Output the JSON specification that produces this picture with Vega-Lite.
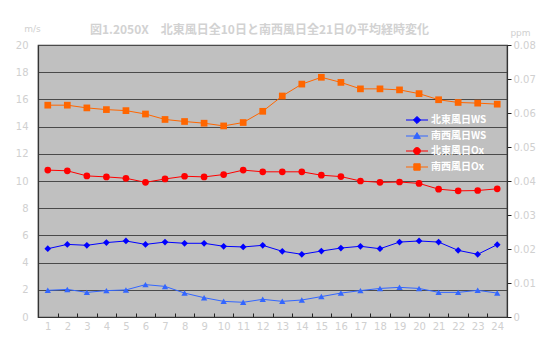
{
  "$schema": "https://vega.github.io/schema/vega-lite/v6.json",
  "width": 469,
  "height": 272,
  "autosize": {"type": "none"},
  "padding": {"left": 38, "top": 45, "right": 35, "bottom": 28},
  "background": "white",
  "title": {
    "text": "図1.2050X　北東風日全10日と南西風日全21日の平均経時変化",
    "font": "Noto Sans CJK JP",
    "fontSize": 12,
    "fontWeight": "bold",
    "color": "#d2d2d2",
    "anchor": "middle",
    "dx": -13,
    "dy": 19,
    "offset": 6
  },
  "config": {
    "view": {"fill": "#c0c0c0", "stroke": "#3a3a3a", "strokeWidth": 1.2},
    "font": "Noto Sans CJK JP",
    "axis": {
      "labelColor": "#d0d0d0",
      "labelFontSize": 10,
      "labelFont": "DejaVu Sans",
      "domainColor": "#333333",
      "domainWidth": 1.2,
      "tickColor": "#222222",
      "tickWidth": 1,
      "titleColor": "#d0d0d0",
      "titleFont": "DejaVu Sans",
      "titleFontSize": 9,
      "titleFontWeight": "normal"
    }
  },
  "datasets": {
    "hourly": [
      {"h": 1, "s": "北東風日WS", "k": "WS", "v": 5.02}, {"h": 2, "s": "北東風日WS", "k": "WS", "v": 5.34},
      {"h": 3, "s": "北東風日WS", "k": "WS", "v": 5.27}, {"h": 4, "s": "北東風日WS", "k": "WS", "v": 5.47},
      {"h": 5, "s": "北東風日WS", "k": "WS", "v": 5.59}, {"h": 6, "s": "北東風日WS", "k": "WS", "v": 5.34},
      {"h": 7, "s": "北東風日WS", "k": "WS", "v": 5.51}, {"h": 8, "s": "北東風日WS", "k": "WS", "v": 5.42},
      {"h": 9, "s": "北東風日WS", "k": "WS", "v": 5.42}, {"h": 10, "s": "北東風日WS", "k": "WS", "v": 5.2},
      {"h": 11, "s": "北東風日WS", "k": "WS", "v": 5.15}, {"h": 12, "s": "北東風日WS", "k": "WS", "v": 5.27},
      {"h": 13, "s": "北東風日WS", "k": "WS", "v": 4.83}, {"h": 14, "s": "北東風日WS", "k": "WS", "v": 4.61},
      {"h": 15, "s": "北東風日WS", "k": "WS", "v": 4.85}, {"h": 16, "s": "北東風日WS", "k": "WS", "v": 5.07},
      {"h": 17, "s": "北東風日WS", "k": "WS", "v": 5.2}, {"h": 18, "s": "北東風日WS", "k": "WS", "v": 5.02},
      {"h": 19, "s": "北東風日WS", "k": "WS", "v": 5.51}, {"h": 20, "s": "北東風日WS", "k": "WS", "v": 5.59},
      {"h": 21, "s": "北東風日WS", "k": "WS", "v": 5.51}, {"h": 22, "s": "北東風日WS", "k": "WS", "v": 4.9},
      {"h": 23, "s": "北東風日WS", "k": "WS", "v": 4.61}, {"h": 24, "s": "北東風日WS", "k": "WS", "v": 5.32},

      {"h": 1, "s": "南西風日WS", "k": "WS", "v": 1.96}, {"h": 2, "s": "南西風日WS", "k": "WS", "v": 2.03},
      {"h": 3, "s": "南西風日WS", "k": "WS", "v": 1.81}, {"h": 4, "s": "南西風日WS", "k": "WS", "v": 1.94},
      {"h": 5, "s": "南西風日WS", "k": "WS", "v": 1.99}, {"h": 6, "s": "南西風日WS", "k": "WS", "v": 2.38},
      {"h": 7, "s": "南西風日WS", "k": "WS", "v": 2.25}, {"h": 8, "s": "南西風日WS", "k": "WS", "v": 1.76},
      {"h": 9, "s": "南西風日WS", "k": "WS", "v": 1.42}, {"h": 10, "s": "南西風日WS", "k": "WS", "v": 1.15},
      {"h": 11, "s": "南西風日WS", "k": "WS", "v": 1.08}, {"h": 12, "s": "南西風日WS", "k": "WS", "v": 1.3},
      {"h": 13, "s": "南西風日WS", "k": "WS", "v": 1.15}, {"h": 14, "s": "南西風日WS", "k": "WS", "v": 1.25},
      {"h": 15, "s": "南西風日WS", "k": "WS", "v": 1.5}, {"h": 16, "s": "南西風日WS", "k": "WS", "v": 1.76},
      {"h": 17, "s": "南西風日WS", "k": "WS", "v": 1.94}, {"h": 18, "s": "南西風日WS", "k": "WS", "v": 2.1},
      {"h": 19, "s": "南西風日WS", "k": "WS", "v": 2.18}, {"h": 20, "s": "南西風日WS", "k": "WS", "v": 2.1},
      {"h": 21, "s": "南西風日WS", "k": "WS", "v": 1.81}, {"h": 22, "s": "南西風日WS", "k": "WS", "v": 1.81},
      {"h": 23, "s": "南西風日WS", "k": "WS", "v": 1.96}, {"h": 24, "s": "南西風日WS", "k": "WS", "v": 1.76},

      {"h": 1, "s": "北東風日Ox", "k": "Ox", "v": 0.0432}, {"h": 2, "s": "北東風日Ox", "k": "Ox", "v": 0.043},
      {"h": 3, "s": "北東風日Ox", "k": "Ox", "v": 0.0415}, {"h": 4, "s": "北東風日Ox", "k": "Ox", "v": 0.0412},
      {"h": 5, "s": "北東風日Ox", "k": "Ox", "v": 0.0408}, {"h": 6, "s": "北東風日Ox", "k": "Ox", "v": 0.0396},
      {"h": 7, "s": "北東風日Ox", "k": "Ox", "v": 0.0406}, {"h": 8, "s": "北東風日Ox", "k": "Ox", "v": 0.0414},
      {"h": 9, "s": "北東風日Ox", "k": "Ox", "v": 0.0412}, {"h": 10, "s": "北東風日Ox", "k": "Ox", "v": 0.0419},
      {"h": 11, "s": "北東風日Ox", "k": "Ox", "v": 0.0432}, {"h": 12, "s": "北東風日Ox", "k": "Ox", "v": 0.0427},
      {"h": 13, "s": "北東風日Ox", "k": "Ox", "v": 0.0427}, {"h": 14, "s": "北東風日Ox", "k": "Ox", "v": 0.0427},
      {"h": 15, "s": "北東風日Ox", "k": "Ox", "v": 0.0417}, {"h": 16, "s": "北東風日Ox", "k": "Ox", "v": 0.0413},
      {"h": 17, "s": "北東風日Ox", "k": "Ox", "v": 0.04}, {"h": 18, "s": "北東風日Ox", "k": "Ox", "v": 0.0396},
      {"h": 19, "s": "北東風日Ox", "k": "Ox", "v": 0.0397}, {"h": 20, "s": "北東風日Ox", "k": "Ox", "v": 0.0393},
      {"h": 21, "s": "北東風日Ox", "k": "Ox", "v": 0.0376}, {"h": 22, "s": "北東風日Ox", "k": "Ox", "v": 0.0371},
      {"h": 23, "s": "北東風日Ox", "k": "Ox", "v": 0.0372}, {"h": 24, "s": "北東風日Ox", "k": "Ox", "v": 0.0377},

      {"h": 1, "s": "南西風日Ox", "k": "Ox", "v": 0.0623}, {"h": 2, "s": "南西風日Ox", "k": "Ox", "v": 0.0623},
      {"h": 3, "s": "南西風日Ox", "k": "Ox", "v": 0.0615}, {"h": 4, "s": "南西風日Ox", "k": "Ox", "v": 0.061},
      {"h": 5, "s": "南西風日Ox", "k": "Ox", "v": 0.0607}, {"h": 6, "s": "南西風日Ox", "k": "Ox", "v": 0.0597},
      {"h": 7, "s": "南西風日Ox", "k": "Ox", "v": 0.0581}, {"h": 8, "s": "南西風日Ox", "k": "Ox", "v": 0.0575},
      {"h": 9, "s": "南西風日Ox", "k": "Ox", "v": 0.057}, {"h": 10, "s": "南西風日Ox", "k": "Ox", "v": 0.0562},
      {"h": 11, "s": "南西風日Ox", "k": "Ox", "v": 0.0572}, {"h": 12, "s": "南西風日Ox", "k": "Ox", "v": 0.0605},
      {"h": 13, "s": "南西風日Ox", "k": "Ox", "v": 0.065}, {"h": 14, "s": "南西風日Ox", "k": "Ox", "v": 0.0685},
      {"h": 15, "s": "南西風日Ox", "k": "Ox", "v": 0.0705}, {"h": 16, "s": "南西風日Ox", "k": "Ox", "v": 0.069},
      {"h": 17, "s": "南西風日Ox", "k": "Ox", "v": 0.0671}, {"h": 18, "s": "南西風日Ox", "k": "Ox", "v": 0.0671},
      {"h": 19, "s": "南西風日Ox", "k": "Ox", "v": 0.0668}, {"h": 20, "s": "南西風日Ox", "k": "Ox", "v": 0.0657},
      {"h": 21, "s": "南西風日Ox", "k": "Ox", "v": 0.0639}, {"h": 22, "s": "南西風日Ox", "k": "Ox", "v": 0.0631},
      {"h": 23, "s": "南西風日Ox", "k": "Ox", "v": 0.0629}, {"h": 24, "s": "南西風日Ox", "k": "Ox", "v": 0.0626}
    ]
  },
  "data": {"name": "hourly"},
  "encoding": {
    "x": {
      "field": "h",
      "type": "ordinal",
      "scale": {"type": "band", "paddingInner": 0, "paddingOuter": 0},
      "axis": {
        "title": null,
        "labelAngle": 0,
        "tickBand": "extent",
        "tickSize": -4,
        "labelPadding": 8,
        "grid": false
      }
    },
    "color": {
      "field": "s",
      "type": "nominal",
      "scale": {
        "domain": ["北東風日WS", "南西風日WS", "北東風日Ox", "南西風日Ox"],
        "range": ["#0000ff", "#3366ff", "#ff0000", "#ff6600"]
      },
      "legend": {
        "orient": "none",
        "legendX": 374,
        "legendY": 70,
        "title": null,
        "padding": 0,
        "labelColor": "#ffffff",
        "labelFont": "Noto Sans CJK JP",
        "labelFontSize": 10,
        "labelFontWeight": "bold",
        "labelOffset": 9,
        "symbolSize": 64,
        "rowPadding": 4,
        "encode": {
          "symbols": {
            "update": {
              "shape": {"signal": "datum.value === '北東風日WS' ? 'M-2.75,0H2.75M0,-0.9L0.9,0L0,0.9L-0.9,0Z' : datum.value === '南西風日WS' ? 'M-2.75,0H2.75M0,-0.85L0.85,0.6L-0.85,0.6Z' : datum.value === '北東風日Ox' ? 'M-2.75,0H2.75M-0.85,0A0.85,0.85,0,1,0,0.85,0A0.85,0.85,0,1,0,-0.85,0Z' : 'M-2.75,0H2.75M-0.8,-0.8H0.8V0.8H-0.8Z'"},
              "fill": {"scale": "color", "field": "value"},
              "stroke": {"scale": "color", "field": "value"},
              "strokeWidth": {"value": 1},
              "opacity": {"value": 1}
            }
          }
        }
      }
    }
  },
  "layer": [
    {
      "transform": [{"filter": "datum.k === 'WS'"}],
      "encoding": {
        "y": {
          "field": "v",
          "type": "quantitative",
          "scale": {"domain": [0, 20], "nice": false},
          "axis": {
            "orient": "left",
            "values": [0, 2, 4, 6, 8, 10, 12, 14, 16, 18, 20],
            "ticks": false,
            "grid": true,
            "gridColor": "#4a4a4a",
            "gridWidth": 1.2,
            "labelPadding": 10,
            "title": "m/s",
            "titleAngle": 0,
            "titleX": -6,
            "titleY": -17,
            "titleAlign": "center",
            "titleBaseline": "middle"
          }
        }
      },
      "layer": [
        {"mark": {"type": "line", "strokeWidth": 1}},
        {
          "transform": [{"filter": "datum.s === '北東風日WS'"}],
          "mark": {"type": "point", "shape": "diamond", "filled": true, "size": 45, "opacity": 1}
        },
        {
          "transform": [{"filter": "datum.s === '南西風日WS'"}],
          "mark": {"type": "point", "shape": "triangle-up", "filled": true, "size": 40, "opacity": 1}
        }
      ]
    },
    {
      "transform": [{"filter": "datum.k === 'Ox'"}],
      "encoding": {
        "y": {
          "field": "v",
          "type": "quantitative",
          "scale": {"domain": [0, 0.08], "nice": false},
          "axis": {
            "orient": "right",
            "values": [0, 0.01, 0.02, 0.03, 0.04, 0.05, 0.06, 0.07, 0.08],
            "grid": false,
            "tickSize": 4,
            "labelPadding": 2,
            "labelExpr": "datum.value === 0 ? '0' : format(datum.value, '.2f')",
            "title": "ppm",
            "titleAngle": 0,
            "titleX": 13,
            "titleY": -13,
            "titleAlign": "center",
            "titleBaseline": "middle"
          }
        }
      },
      "layer": [
        {"mark": {"type": "line", "strokeWidth": 1}},
        {
          "transform": [{"filter": "datum.s === '北東風日Ox'"}],
          "mark": {"type": "point", "shape": "circle", "filled": true, "size": 45, "opacity": 1}
        },
        {
          "transform": [{"filter": "datum.s === '南西風日Ox'"}],
          "mark": {"type": "point", "shape": "square", "filled": true, "size": 45, "opacity": 1}
        }
      ]
    }
  ],
  "resolve": {"scale": {"y": "independent"}}
}
